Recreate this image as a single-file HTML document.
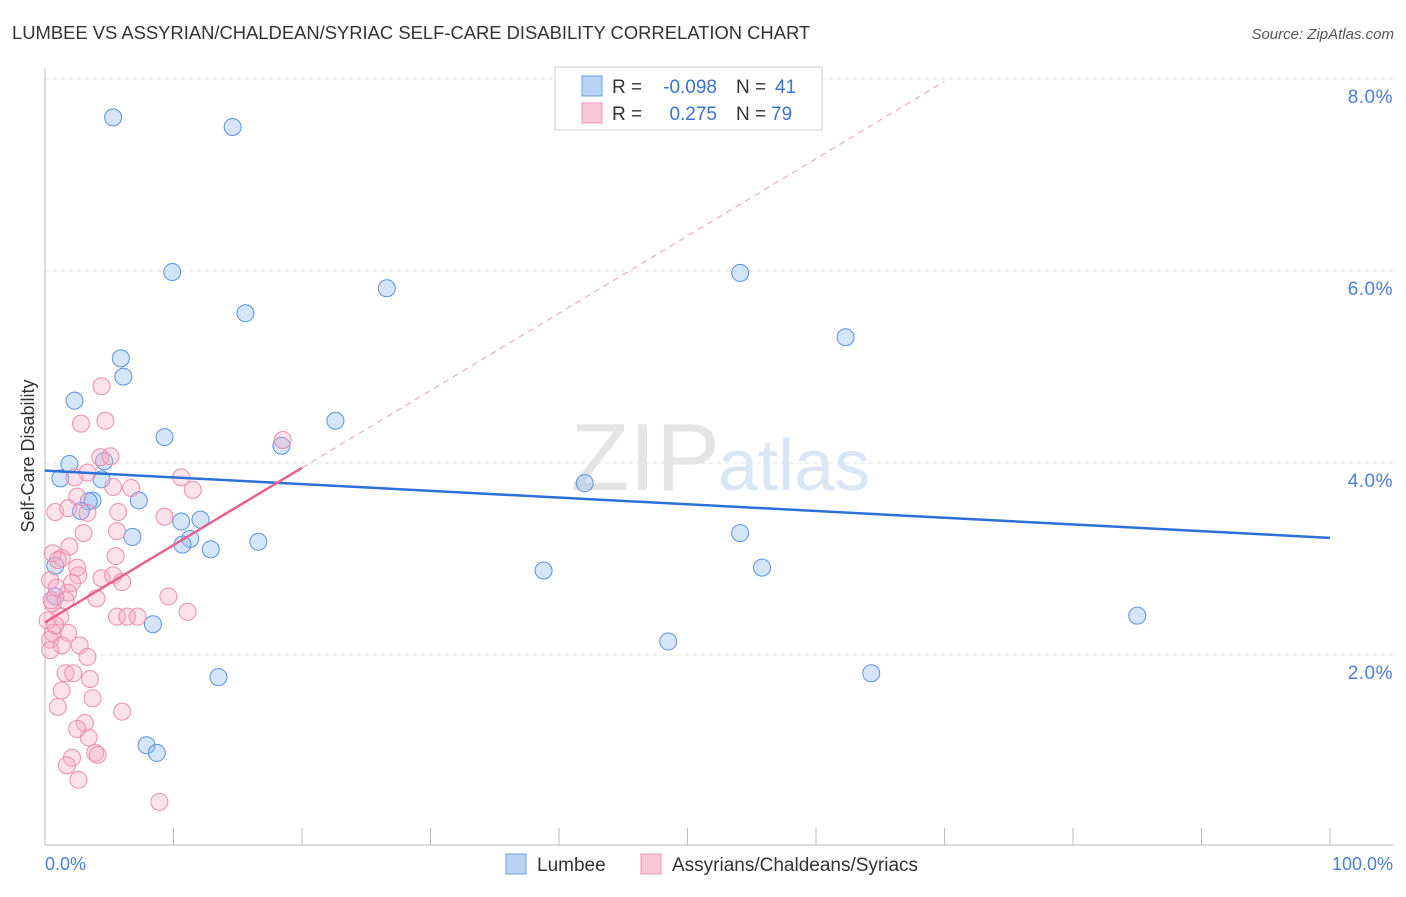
<!DOCTYPE html>
<html><head><meta charset="utf-8"><style>
body{margin:0;background:#fff;font-family:"Liberation Sans",sans-serif;}
svg text{font-family:"Liberation Sans",sans-serif;}
</style></head><body>
<svg id="c" width="1406" height="892" xmlns="http://www.w3.org/2000/svg">
<text x="12" y="39" font-size="18.4" fill="#333">LUMBEE VS ASSYRIAN/CHALDEAN/SYRIAC SELF-CARE DISABILITY CORRELATION CHART</text>
<text x="1394" y="39" font-size="15" fill="#555" text-anchor="end" font-style="italic">Source: ZipAtlas.com</text>
<text x="720" y="490" font-size="96" fill="#e4e4e4" text-anchor="end" font-family="Liberation Serif">ZIP</text>
<text x="718" y="490" font-size="72" fill="#dbe6f4">atlas</text>
<g id="grid"></g>
<g id="axes"></g>
<g id="pts"></g>
<g id="trend"></g>
<text transform="translate(34,456) rotate(-90)" font-size="18" fill="#333" text-anchor="middle">Self-Care Disability</text>
<text x="45" y="870" font-size="18" fill="#4a7fd6">0.0%</text>
<text x="1393" y="870" font-size="18" fill="#4a7fd6" text-anchor="end">100.0%</text>
<g>
<rect x="555" y="67" width="267" height="63" fill="#fff" stroke="#ccc"/>
<rect x="582" y="76" width="20" height="20" fill="#b9d3f5" stroke="#6a9be0"/>
<rect x="582" y="103" width="20" height="20" fill="#f9c8d7" stroke="#eb98b3"/>
<text x="612" y="93" font-size="19" fill="#333">R =</text>
<text x="717" y="93" font-size="19" fill="#3a72d0" text-anchor="end">-0.098</text>
<text x="736" y="93" font-size="19" fill="#333">N =</text>
<text x="775" y="93" font-size="19" fill="#3a72d0">41</text>
<text x="612" y="120" font-size="19" fill="#333">R =</text>
<text x="717" y="120" font-size="19" fill="#3a72d0" text-anchor="end">0.275</text>
<text x="736" y="120" font-size="19" fill="#333">N =</text>
<text x="771" y="120" font-size="19" fill="#3a72d0">79</text>
</g>
<g>
<rect x="506" y="854" width="20" height="20" fill="#b9d3f5" stroke="#6a9be0"/>
<text x="537" y="871" font-size="19" fill="#333">Lumbee</text>
<rect x="641" y="854" width="20" height="20" fill="#f9c8d7" stroke="#eb98b3"/>
<text x="672" y="871" font-size="19" fill="#333">Assyrians/Chaldeans/Syriacs</text>
</g>
</svg>
<script>
const yTicks=[2,4,6,8];
const yTickLabels=["2.0%","4.0%","6.0%","8.0%"];
const xTicks=[10,20,30,40,50,60,70,80,90,100];
const blueX=[5.3,14.6,9.9,54.1,26.6,15.6,62.3,5.9,6.1,2.3,22.6,9.3,18.4,4.6,1.9,1.2,4.4,42.0,3.7,3.4,7.3,2.8,10.6,12.1,11.3,10.7,6.8,12.9,16.6,54.1,0.8,38.8,55.8,0.8,8.4,48.5,85.0,13.5,64.3,7.9,8.7];
const blueY=[7.60,7.50,5.99,5.98,5.82,5.56,5.31,5.09,4.90,4.65,4.44,4.27,4.18,4.02,3.99,3.84,3.83,3.79,3.61,3.60,3.61,3.50,3.39,3.41,3.21,3.15,3.23,3.10,3.18,3.27,2.93,2.88,2.91,2.61,2.32,2.14,2.41,1.77,1.81,1.06,0.98];
const pinkX=[4.4,2.8,4.7,4.3,5.1,3.3,2.3,5.3,6.7,10.6,11.5,2.5,0.8,1.8,3.3,5.7,9.3,3.0,5.6,1.9,0.6,1.3,5.5,2.5,2.6,2.1,4.4,5.3,6.0,1.8,4.0,9.6,11.1,5.6,6.4,7.2,0.6,1.2,1.8,0.6,0.4,1.3,2.7,3.3,1.6,2.2,3.5,1.3,3.7,1.0,6.0,3.1,2.5,3.4,3.9,4.1,2.1,1.7,2.6,8.9,18.5,0.4,0.5,0.2,0.8,0.4,0.9,1.6,1.0];
const pinkY=[4.80,4.41,4.44,4.06,4.07,3.90,3.85,3.75,3.74,3.85,3.72,3.65,3.49,3.53,3.48,3.49,3.44,3.27,3.29,3.13,3.06,3.01,3.03,2.91,2.83,2.75,2.80,2.83,2.76,2.65,2.59,2.61,2.45,2.40,2.40,2.40,2.54,2.40,2.23,2.23,2.16,2.10,2.10,1.98,1.81,1.81,1.75,1.63,1.55,1.46,1.41,1.29,1.23,1.14,0.98,0.96,0.93,0.85,0.70,0.47,4.24,2.78,2.57,2.36,2.31,2.05,2.70,2.57,2.99];
const blueTrend=[3.92,3.22];
const pinkTrend=[2.34,0.0805];
const NS="http://www.w3.org/2000/svg";
const X=v=>45+v*12.85, Y=v=>847-v*96;
function mk(t,a,p){const e=document.createElementNS(NS,t);for(const k in a)e.setAttribute(k,a[k]);p.appendChild(e);return e;}
const grid=document.getElementById('grid'),axes=document.getElementById('axes'),pts=document.getElementById('pts'),tr=document.getElementById('trend');
yTicks.forEach((t,i)=>{
 const l=mk('line',{x1:45,x2:1393,y1:Y(t),y2:Y(t),stroke:'#e2e2e2','stroke-dasharray':'4,4'},grid);
 
 
 const tx=mk('text',{x:1393,y:Y(t)+24,'font-size':19,fill:'#4a7fd6','text-anchor':'end','letter-spacing':'0.5'},grid);
 tx.textContent=yTickLabels[i];
 
 
});
mk('line',{x1:45,x2:1393,y1:845,y2:845,stroke:'#bbb'},axes);
mk('line',{x1:45,x2:45,y1:68,y2:845,stroke:'#bbb'},axes);
xTicks.forEach(t=>{
 const l=mk('line',{x1:X(t),x2:X(t),y1:828,y2:845,stroke:'#bbb'},axes);
 
 
});
blueX.forEach((v,i)=>{
 const c=mk('circle',{cx:X(v),cy:Y(blueY[i]),r:8.5,fill:'rgba(150,190,240,0.4)',stroke:'#5b92e0','stroke-width':1},pts);
 
 
});
pinkX.forEach((v,i)=>{
 const c=mk('circle',{cx:X(v),cy:Y(pinkY[i]),r:8.5,fill:'rgba(245,170,195,0.35)',stroke:'#eb8fae','stroke-width':1},pts);
 
 
});
const bl=mk('line',{x1:X(0),y1:Y(blueTrend[0]),x2:X(100),y2:Y(blueTrend[1]),stroke:'#2c6fd6','stroke-width':2.5},tr);


const pf=x=>pinkTrend[0]+pinkTrend[1]*x;
const pl=mk('line',{x1:X(0),y1:Y(pf(0)),x2:X(20),y2:Y(pf(20)),stroke:'#e8608e','stroke-width':2.5},tr);


const pd=mk('line',{x1:X(20),y1:Y(pf(20)),x2:X(70),y2:Y(pf(70)),stroke:'#eca0b8','stroke-width':1,'stroke-dasharray':'6,5'},tr);


</script>
</body></html>
